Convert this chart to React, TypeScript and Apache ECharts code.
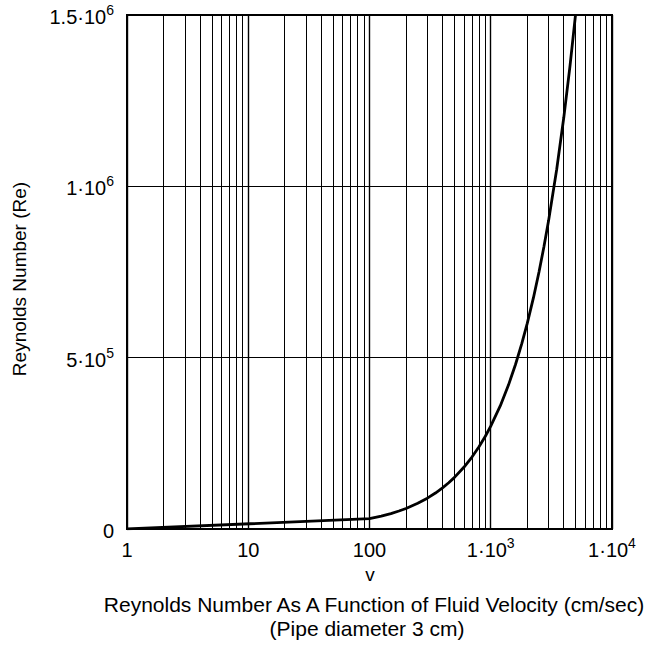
import React, { useEffect, useRef } from "react";
import * as echarts from "echarts";

const FONT = "'Liberation Sans', Arial, Helvetica, sans-serif";

// Curve: velocity (cm/sec) vs Reynolds number
const velocity = [
  1, 100, 125, 150, 175, 200, 250, 300, 350, 400, 450, 500, 600, 700, 800, 900, 1000,
  1200, 1400, 1600, 1800, 2000, 2250, 2500, 2750, 3000, 3500, 4000, 4500, 5000,
];
const reynolds = [
  300, 30000, 37500, 45000, 52500, 60000, 75000, 90000, 105000, 120000, 135000, 150000, 180000, 210000, 240000, 270000, 300000,
  360000, 420000, 480000, 540000, 600000, 675000, 750000, 825000, 900000, 1050000, 1200000, 1350000, 1500000,
];

// Minor vertical grid lines (log decades 2..9)
const gridVelocities = [
  2, 3, 4, 5, 6, 7, 8, 9,
  20, 30, 40, 50, 60, 70, 80, 90,
  200, 300, 400, 500, 600, 700, 800, 900,
  2000, 3000, 4000, 5000, 6000, 7000, 8000, 9000,
];

// Tick labels: [mantissa text, exponent]
const xTickLabels = [["1", ""], ["10", ""], ["100", ""], ["1·10", "3"], ["1·10", "4"]];
const yTickValues = [0, 500000, 1000000, 1500000];
const yTickLabels = [["0", ""], ["5·10", "5"], ["1·10", "6"], ["1.5·10", "6"]];

const yTitle = "Reynolds Number (Re)";
const xName = "v";
const captionLine1 = "Reynolds Number As A Function of Fluid Velocity (cm/sec)";
const captionLine2 = "(Pipe diameter 3 cm)";

function fmt(pair: string[]) {
  return pair[1] ? `{b|${pair[0]}}{s|${pair[1]}}` : `{b|${pair[0]}}`;
}

const rich = {
  b: { fontSize: 20, fontFamily: FONT, color: "#000", lineHeight: 24, verticalAlign: "bottom" },
  s: { fontSize: 14, fontFamily: FONT, color: "#000", lineHeight: 14, verticalAlign: "top" },
};

export default function App() {
  const ref = useRef<HTMLDivElement>(null);
  useEffect(() => {
    if (!ref.current) return;
    const chart = echarts.init(ref.current, undefined, { renderer: "svg" });
    chart.setOption({
      animation: false,
      backgroundColor: "#fff",
      grid: {
        left: 127,
        right: 41,
        top: 15,
        bottom: 120,
        show: true,
        borderColor: "#000",
        borderWidth: 2,
        backgroundColor: "transparent",
      },
      xAxis: {
        type: "log",
        logBase: 10,
        min: 1,
        max: 10000,
        axisLine: { show: true, lineStyle: { color: "#000", width: 2 } },
        axisTick: { show: false },
        splitLine: { show: true, lineStyle: { color: "#000", width: 1.4 } },
        axisLabel: {
          margin: 7,
          formatter: (val: number) => {
            const i = Math.round(Math.log10(val));
            return xTickLabels[i] ? fmt(xTickLabels[i]) : "";
          },
          rich,
        },
      },
      yAxis: {
        type: "value",
        min: 0,
        max: 1500000,
        interval: 500000,
        axisLine: { show: true, lineStyle: { color: "#000", width: 2 } },
        axisTick: { show: false },
        splitLine: { show: true, lineStyle: { color: "#000", width: 1.2 } },
        axisLabel: {
          margin: 13,
          formatter: (val: number) => {
            const i = yTickValues.indexOf(val);
            return i >= 0 ? fmt(yTickLabels[i]) : "";
          },
          rich,
        },
      },
      series: [
        {
          type: "line",
          data: velocity.map((v, i) => [v, reynolds[i]]),
          showSymbol: false,
          smooth: false,
          clip: true,
          lineStyle: { color: "#000", width: 2.8 },
          z: 5,
          markLine: {
            silent: true,
            symbol: ["none", "none"],
            label: { show: false },
            lineStyle: { color: "#000", width: 1, type: "solid" },
            data: gridVelocities.map((v) => ({ xAxis: v })),
            z: 3,
          },
        },
      ],
      graphic: [
        {
          type: "text",
          x: 19,
          y: 279,
          rotation: Math.PI / 2,
          style: {
            text: yTitle,
            font: `19px ${FONT}`,
            fill: "#000",
            textAlign: "center",
            textVerticalAlign: "middle",
          },
        },
        {
          type: "text",
          x: 370,
          y: 574,
          style: { text: xName, font: `19px ${FONT}`, fill: "#000", textAlign: "center", textVerticalAlign: "middle" },
        },
        {
          type: "text",
          x: 374,
          y: 604,
          style: { text: captionLine1, font: `21px ${FONT}`, fill: "#000", textAlign: "center", textVerticalAlign: "middle" },
        },
        {
          type: "text",
          x: 367,
          y: 628,
          style: { text: captionLine2, font: `21px ${FONT}`, fill: "#000", textAlign: "center", textVerticalAlign: "middle" },
        },
      ],
    });
    return () => chart.dispose();
  }, []);
  return <div ref={ref} style={{ width: 653, height: 649, position: "absolute", left: 0, top: 0 }} />;
}
